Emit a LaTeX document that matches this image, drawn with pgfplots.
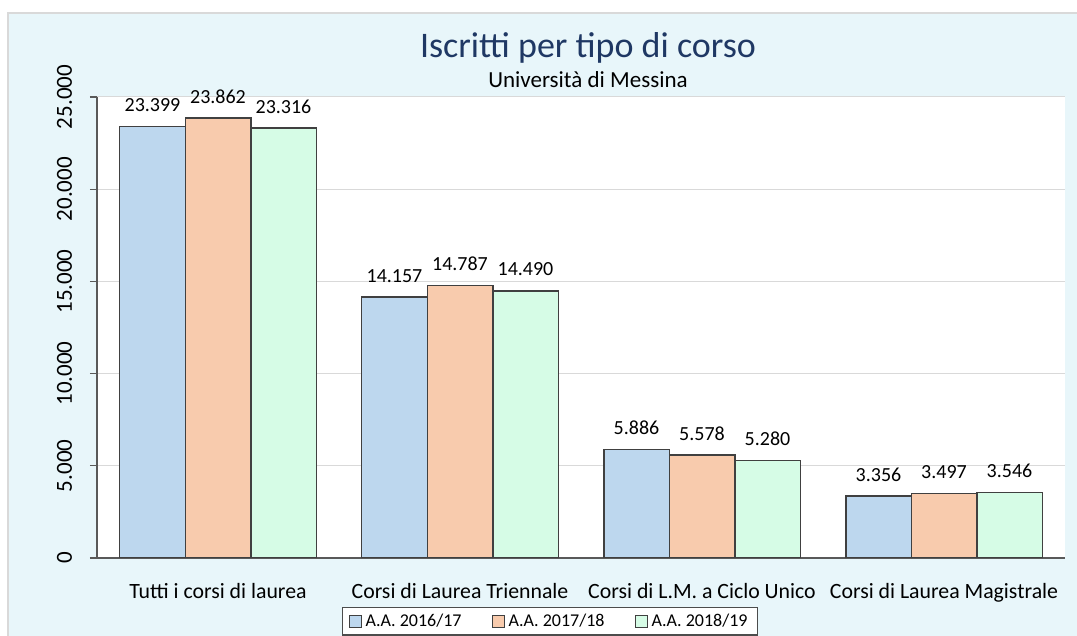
\documentclass[border=0pt]{standalone}
\usepackage{pgfplots}
\pgfplotsset{compat=1.18}
\usepackage{fontspec}
\setmainfont{Carlito}
\definecolor{bgc}{HTML}{E8F6FA}
\definecolor{c1}{HTML}{BDD7EE}
\definecolor{c2}{HTML}{F8CBAD}
\definecolor{c3}{HTML}{D6FCE6}
\definecolor{titc}{HTML}{1F3864}
\begin{document}
\begin{tikzpicture}
\useasboundingbox (0pt,0pt) rectangle (538.5pt,318pt);
\fill[bgc] (4pt,0pt) rectangle (538.5pt,311.5pt);
\draw[black!15, line width=0.6pt] (4pt,0pt) -- (4pt,311.5pt) -- (538.5pt,311.5pt);
\node[anchor=base, font=\fontsize{18}{20}\selectfont, text=titc] at (294pt,289pt) {Iscritti per tipo di corso};
\node[anchor=base, font=\fontsize{11.5}{13}\selectfont, text=black] at (294pt,274pt) {Università di Messina};
\begin{axis}[
  at={(48.5pt,39pt)}, anchor=south west,
  scale only axis, width=484pt, height=230.5pt,
  xmin=-0.5, xmax=3.5, ymin=0, ymax=25000,
  axis x line*=bottom, axis y line*=left,
  axis line style={draw=black!65, line width=0.6pt},
  axis background/.style={fill=white},
  ybar=0pt, bar width=32.75pt,
  xtick={0,1,2,3},
  xticklabels={Tutti i corsi di laurea, Corsi di Laurea Triennale, Corsi di L.M. a Ciclo Unico, Corsi di Laurea Magistrale},
  x tick style={draw=none},
  ytick={0,5000,10000,15000,20000,25000},
  ymajorgrids, grid style={draw=black!15, line width=0.5pt},
  y tick style={draw=black!65, line width=0.6pt},
  tick align=outside, major tick length=3.5pt,
  scaled y ticks=false,
  /pgf/number format/1000 sep={.},
  /pgf/number format/assume math mode=true,
  yticklabel style={rotate=90, anchor=base, font=\fontsize{11.5}{13}\selectfont, yshift=9pt},
  xticklabel style={font=\fontsize{10.9}{13}\selectfont, anchor=base, yshift=-17pt},
  nodes near coords,
  every node near coord/.append style={font=\fontsize{10}{12}\selectfont, text=black, anchor=south, inner sep=0pt, yshift=7pt},
  legend columns=3,
  legend cell align=left,
  legend image code/.code={\draw[#1,line width=0.5pt] (0pt,-3pt) rectangle (6pt,3pt);},
  legend style={at={(0.468,-0.1063)}, anchor=north, draw=black!70, fill=white, line width=0.6pt,
    font=\fontsize{9}{11}\selectfont, inner ysep=1pt,
    /tikz/every even column/.append style={column sep=13pt}},
]
\addplot[fill=c1, draw=black!75, line width=0.75pt] coordinates {(0,23399) (1,14157) (2,5886) (3,3356)};
\addplot[fill=c2, draw=black!75, line width=0.75pt] coordinates {(0,23862) (1,14787) (2,5578) (3,3497)};
\addplot[fill=c3, draw=black!75, line width=0.75pt] coordinates {(0,23316) (1,14490) (2,5280) (3,3546)};
\legend{A.A. 2016/17, A.A. 2017/18, A.A. 2018/19}
\end{axis}
\end{tikzpicture}
\end{document}
